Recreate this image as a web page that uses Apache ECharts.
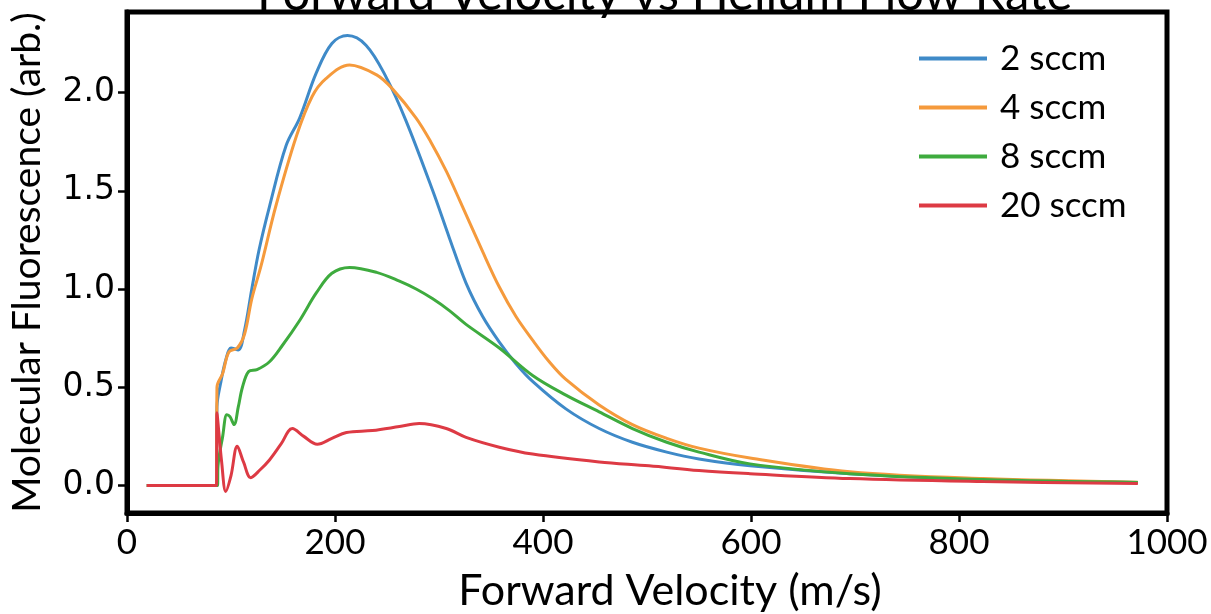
<!DOCTYPE html>
<html>
<head>
<meta charset="utf-8">
<script src="https://cdn.jsdelivr.net/npm/echarts@6/dist/echarts.min.js"></script>
<style>html,body{margin:0;padding:0;background:#fff;}#c{width:1211px;height:614px;}</style>
</head>
<body>
<div id="c"></div>
<script>
// Data
const seriesNames = ['2 sccm', '4 sccm', '8 sccm', '20 sccm'];
const xTicks = [0, 200, 400, 600, 800, 1000];
const yTicks = [0, 0.5, 1.0, 1.5, 2.0];

const v2 = [19, 86, 86.5, 90, 95, 100, 107, 113, 120, 127, 137, 153, 166, 182, 197, 212, 230, 249, 268, 294, 310, 326, 342, 358, 374, 390, 422, 454, 486, 519, 550, 599, 695, 823, 972];
const f2 = [0, 0, 0.40, 0.52, 0.64, 0.70, 0.69, 0.79, 1.00, 1.20, 1.42, 1.73, 1.87, 2.10, 2.25, 2.29, 2.24, 2.08, 1.86, 1.50, 1.26, 1.03, 0.86, 0.73, 0.62, 0.53, 0.39, 0.29, 0.22, 0.17, 0.135, 0.10, 0.06, 0.03, 0.015];

const v4 = [19, 86, 86.5, 92, 98, 106, 113, 120, 129, 143, 163, 178, 191, 214, 240, 255, 278, 292, 307, 320, 342, 358, 374, 390, 406, 422, 454, 486, 519, 550, 599, 695, 823, 972];
const f4 = [0, 0, 0.50, 0.57, 0.68, 0.70, 0.77, 0.95, 1.12, 1.42, 1.78, 1.98, 2.07, 2.14, 2.09, 2.02, 1.87, 1.75, 1.60, 1.45, 1.19, 1.01, 0.86, 0.74, 0.63, 0.54, 0.41, 0.31, 0.24, 0.19, 0.14, 0.07, 0.035, 0.017];

const v8 = [19, 87, 87.5, 92, 96, 99, 103, 107, 111, 117, 125, 137, 149, 166, 182, 197, 214, 240, 262, 278, 294, 310, 326, 358, 390, 422, 454, 486, 519, 550, 599, 695, 823, 972];
const f8 = [0, 0, 0.10, 0.25, 0.36, 0.35, 0.31, 0.40, 0.50, 0.58, 0.59, 0.63, 0.71, 0.84, 0.98, 1.08, 1.11, 1.085, 1.04, 1.00, 0.95, 0.89, 0.82, 0.70, 0.56, 0.46, 0.375, 0.29, 0.22, 0.17, 0.11, 0.06, 0.03, 0.015];

const v20 = [19, 86, 86.5, 91, 95, 100, 106, 112, 119, 128, 137, 148, 159, 170, 183, 197, 211, 236, 262, 281, 307, 326, 358, 390, 454, 502, 550, 599, 695, 823, 972];
const f20 = [0, 0, 0.37, 0.12, -0.03, 0.05, 0.20, 0.12, 0.04, 0.08, 0.13, 0.21, 0.29, 0.25, 0.21, 0.24, 0.27, 0.28, 0.30, 0.315, 0.29, 0.245, 0.195, 0.16, 0.12, 0.10, 0.076, 0.06, 0.035, 0.02, 0.01];

const colors = ['#3f8ac8', '#f59a3c', '#3eab3e', '#dd3a44'];
const xs = [v2, v4, v8, v20];
const ys = [f2, f4, f8, f20];

function pairs(a, b) { return a.map((x, i) => [x, b[i]]); }

const chart = echarts.init(document.getElementById('c'), null, { renderer: 'canvas' });
chart.setOption({
  animation: false,
  backgroundColor: '#fff',
  color: colors,
  title: {
    text: 'Forward Velocity vs Helium Flow Rate',
    left: 252,
    top: -35,
    textStyle: { fontFamily: 'Lato', fontWeight: 'normal', fontSize: 49, color: '#000' }
  },
  legend: {
    orient: 'vertical',
    left: 914,
    top: 36,
    itemWidth: 68,
    itemHeight: 4,
    itemGap: 14,
    icon: 'rect',
    data: seriesNames,
    textStyle: { fontFamily: 'Lato', fontSize: 35, color: '#000', lineHeight: 33, padding: [0, 0, 0, 8] }
  },
  grid: {
    left: 127, right: 44, top: 12, bottom: 101,
    outerBoundsMode: 'none',
    containLabel: false,
    show: true, borderColor: '#000', borderWidth: 5, backgroundColor: 'transparent'
  },
  xAxis: {
    type: 'value',
    min: 0, max: 1000, interval: 200,
    name: 'Forward Velocity (m/s)',
    nameLocation: 'middle',
    nameGap: 57,
    nameTextStyle: { fontFamily: 'Lato', fontSize: 43, color: '#000', padding: [0, 0, 0, 46] },
    axisLine: { show: true, onZero: false, lineStyle: { color: '#000', width: 5 } },
    axisTick: { show: true, inside: false, length: 9, lineStyle: { color: '#000', width: 2.5 } },
    axisLabel: { fontFamily: 'Lato', fontSize: 35, color: '#000', margin: 12, formatter: v => String(v) },
    splitLine: { show: false }
  },
  yAxis: {
    type: 'value',
    min: -0.14, max: 2.41,
    name: 'Molecular Fluorescence (arb.)',
    nameLocation: 'middle',
    nameGap: 80,
    nameTextStyle: { fontFamily: 'Lato', fontSize: 39, color: '#000' },
    axisLine: { show: true, onZero: false, lineStyle: { color: '#000', width: 5 } },
    axisTick: { show: true, inside: false, length: 9, lineStyle: { color: '#000', width: 2.5 }, customValues: yTicks },
    axisLabel: { fontFamily: 'DejaVu Sans', fontSize: 33, color: '#000', margin: 12, customValues: yTicks,
      formatter: v => v.toFixed(1) },
    splitLine: { show: false }
  },
  series: seriesNames.map((n, i) => ({
    name: n,
    type: 'line',
    data: pairs(xs[i], ys[i]),
    showSymbol: false,
    smooth: 0.35,
    lineStyle: { width: 3, color: colors[i] },
    itemStyle: { color: colors[i] }
  }))
});
</script>
</body>
</html>
